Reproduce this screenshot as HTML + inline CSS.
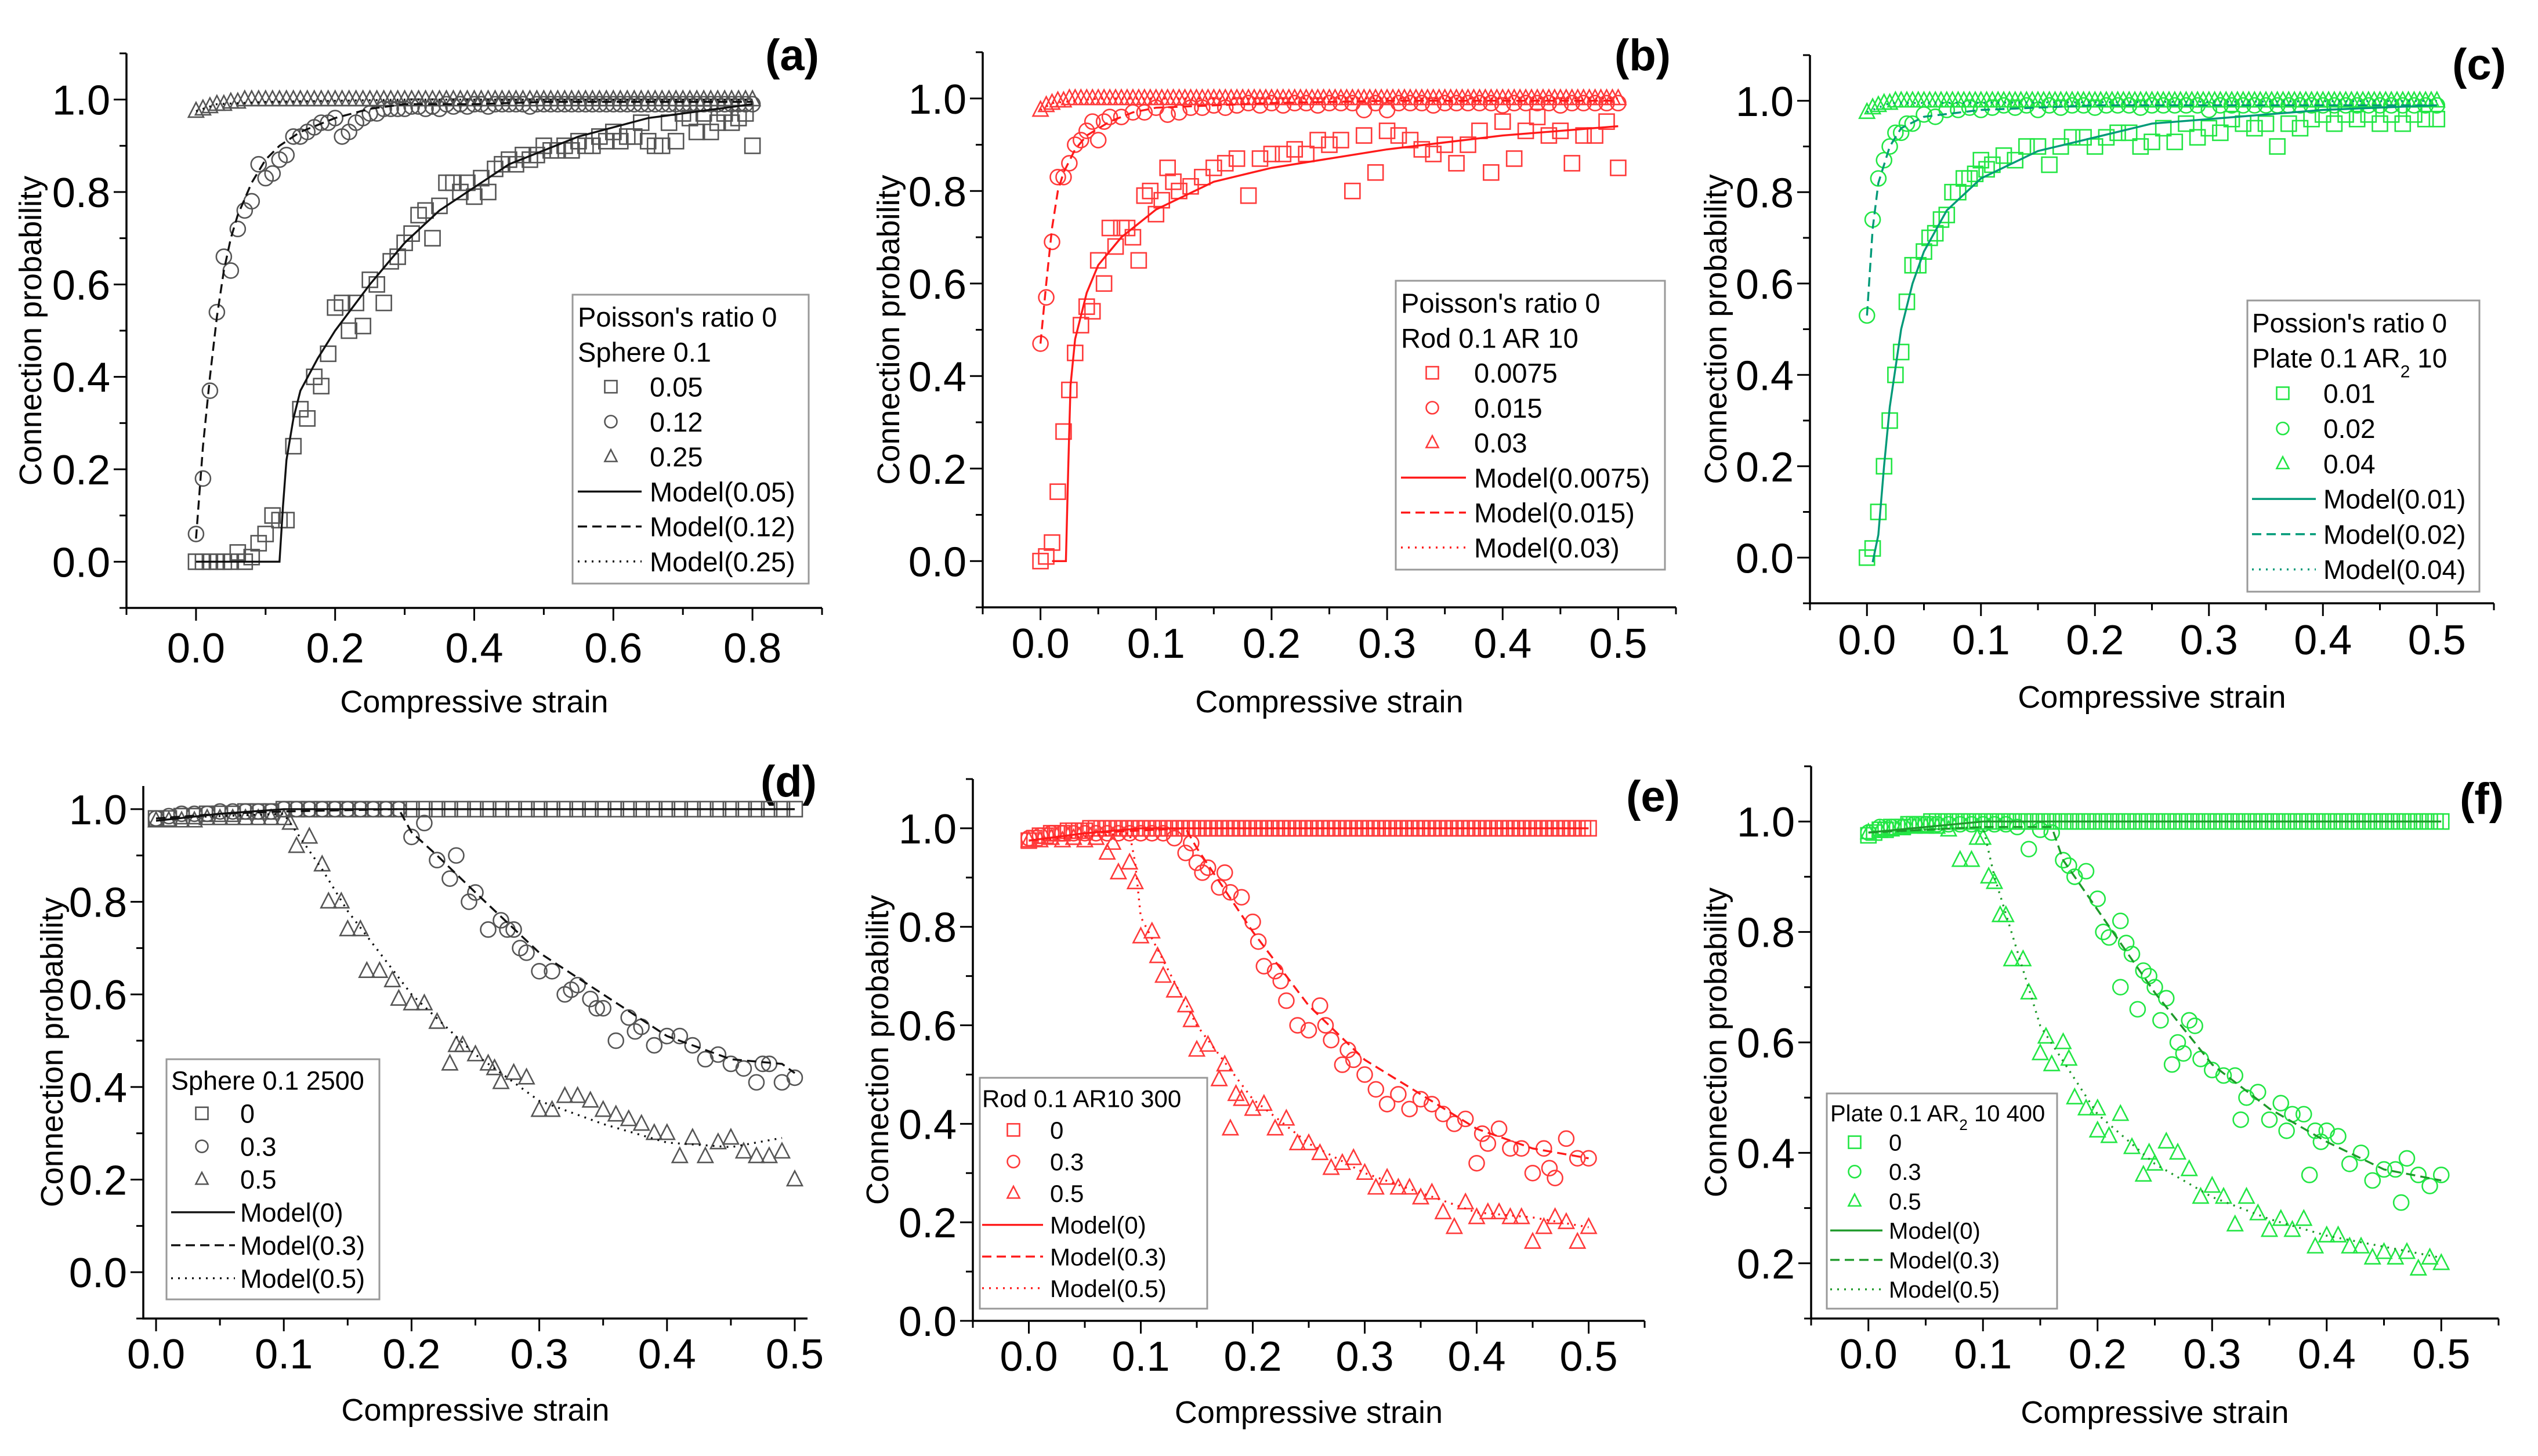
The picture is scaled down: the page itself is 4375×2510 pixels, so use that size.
<!DOCTYPE html>
<html><head><meta charset="utf-8"><style>
html,body{margin:0;padding:0;background:#fff}
svg{display:block}
text{font-family:"Liberation Sans",Arial,sans-serif}
</style></head><body>
<svg id="fig" xmlns="http://www.w3.org/2000/svg" width="4375" height="2510" viewBox="0 0 4375 2510"></svg>
<script>
// ---------- DATA ----------
const gridA=[0,0.01,0.02,0.03,0.04,0.05,0.06,0.07,0.08,0.09,0.1,0.11,0.12,0.13,0.14,0.15,0.16,0.17,0.18,0.19,0.2,0.21,0.22,0.23,0.24,0.25,0.26,0.27,0.28,0.29,0.3,0.31,0.32,0.33,0.34,0.35,0.36,0.37,0.38,0.39,0.4,0.41,0.42,0.43,0.44,0.45,0.46,0.47,0.48,0.49,0.5,0.51,0.52,0.53,0.54,0.55,0.56,0.57,0.58,0.59,0.6,0.61,0.62,0.63,0.64,0.65,0.66,0.67,0.68,0.69,0.7,0.71,0.72,0.73,0.74,0.75,0.76,0.77,0.78,0.79,0.8];
const grid5=[0,0.01,0.02,0.03,0.04,0.05,0.06,0.07,0.08,0.09,0.1,0.11,0.12,0.13,0.14,0.15,0.16,0.17,0.18,0.19,0.2,0.21,0.22,0.23,0.24,0.25,0.26,0.27,0.28,0.29,0.3,0.31,0.32,0.33,0.34,0.35,0.36,0.37,0.38,0.39,0.4,0.41,0.42,0.43,0.44,0.45,0.46,0.47,0.48,0.49,0.5];
const grid5h=[0,0.005,0.01,0.015,0.02,0.025,0.03,0.035,0.04,0.045,0.05,0.055,0.06,0.065,0.07,0.075,0.08,0.085,0.09,0.095,0.1,0.105,0.11,0.115,0.12,0.125,0.13,0.135,0.14,0.145,0.15,0.155,0.16,0.165,0.17,0.175,0.18,0.185,0.19,0.195,0.2,0.205,0.21,0.215,0.22,0.225,0.23,0.235,0.24,0.245,0.25,0.255,0.26,0.265,0.27,0.275,0.28,0.285,0.29,0.295,0.3,0.305,0.31,0.315,0.32,0.325,0.33,0.335,0.34,0.345,0.35,0.355,0.36,0.365,0.37,0.375,0.38,0.385,0.39,0.395,0.4,0.405,0.41,0.415,0.42,0.425,0.43,0.435,0.44,0.445,0.45,0.455,0.46,0.465,0.47,0.475,0.48,0.485,0.49,0.495,0.5];
const near1_101=[0.975,0.985,0.99,0.995,0.995,1,1,1,1,1,1,1,1,1,1,1,1,1,1,1,1,1,1,1,1,1,1,1,1,1,1,1,1,1,1,1,1,1,1,1,1,1,1,1,1,1,1,1,1,1,1,1,1,1,1,1,1,1,1,1,1,1,1,1,1,1,1,1,1,1,1,1,1,1,1,1,1,1,1,1,1,1,1,1,1,1,1,1,1,1,1,1,1,1,1,1,1,1,1,1,1];
const near1_101b=[0.975,0.98,0.985,0.985,0.99,0.99,0.99,0.995,0.995,0.995,0.995,1,1,1,1,1,1,1,1,1,1,1,1,1,1,1,1,1,1,1,1,1,1,1,1,1,1,1,1,1,1,1,1,1,1,1,1,1,1,1,1,1,1,1,1,1,1,1,1,1,1,1,1,1,1,1,1,1,1,1,1,1,1,1,1,1,1,1,1,1,1,1,1,1,1,1,1,1,1,1,1,1,1,1,1,1,1,1,1,1,1];
// (a)
const aTriY=[0.975,0.98,0.985,0.99,0.99,0.995,0.995,1,1,1,1,1,1,1,1,1,1,1,1,1,1,1,1,1,1,1,1,1,1,1,1,1,1,1,1,1,1,1,1,1,1,1,1,1,1,1,1,1,1,1,1,1,1,1,1,1,1,1,1,1,1,1,1,1,1,1,1,1,1,1,1,1,1,1,1,1,1,1,1,1,1];
const aSqY=[0,0,0,0,0,0,0.02,0,0.01,0.04,0.06,0.1,0.09,0.09,0.25,0.33,0.31,0.4,0.38,0.45,0.55,0.56,0.5,0.56,0.51,0.61,0.6,0.56,0.65,0.66,0.69,0.71,0.75,0.76,0.7,0.77,0.82,0.82,0.8,0.82,0.79,0.83,0.8,0.85,0.86,0.87,0.86,0.88,0.87,0.88,0.9,0.89,0.89,0.9,0.89,0.91,0.9,0.9,0.92,0.91,0.93,0.91,0.92,0.92,0.95,0.91,0.9,0.9,0.95,0.91,0.97,0.96,0.93,0.97,0.93,0.95,0.97,0.95,0.96,0.97,0.9];
const aCirY=[0.06,0.18,0.37,0.54,0.66,0.63,0.72,0.76,0.78,0.86,0.83,0.84,0.87,0.88,0.92,0.92,0.93,0.94,0.95,0.95,0.96,0.92,0.93,0.95,0.96,0.97,0.97,0.98,0.98,0.98,0.98,0.985,0.985,0.98,0.985,0.98,0.99,0.985,0.99,0.985,0.99,0.99,0.985,0.99,0.99,0.99,0.99,0.99,0.985,0.99,0.99,0.99,0.99,0.99,0.99,0.99,0.99,0.99,0.99,0.99,0.99,0.99,0.99,0.99,0.99,0.99,0.99,0.99,0.99,0.99,0.99,0.99,0.99,0.99,0.99,0.99,0.99,0.99,0.99,0.99,0.99];
const aM1X=[0,0.12,0.125,0.13,0.14,0.15,0.175,0.2,0.25,0.3,0.35,0.4,0.45,0.5,0.55,0.6,0.65,0.7,0.75,0.8];
const aM1Y=[0,0,0.12,0.22,0.31,0.37,0.44,0.5,0.6,0.69,0.76,0.81,0.86,0.89,0.92,0.94,0.96,0.97,0.98,0.99];
const aM2X=[0,0.01,0.02,0.03,0.04,0.05,0.06,0.08,0.1,0.12,0.15,0.2,0.25,0.3,0.4,0.5,0.6,0.7,0.8];
const aM2Y=[0.05,0.25,0.4,0.53,0.63,0.7,0.75,0.82,0.87,0.9,0.93,0.96,0.98,0.99,0.99,0.995,0.995,0.995,0.995];
const aM3X=[0,0.03,0.1,0.3,0.5,0.8];
const aM3Y=[0.975,0.99,0.995,1,1,1];
// (b)
const bSqX=[0,0.005,0.01,0.015,0.02,0.025,0.03,0.035,0.04,0.045,0.05,0.055,0.06,0.065,0.07,0.075,0.08,0.085,0.09,0.095,0.1,0.105,0.11,0.115,0.12,0.13,0.14,0.15,0.16,0.17,0.18,0.19,0.2,0.21,0.22,0.23,0.24,0.25,0.26,0.27,0.28,0.29,0.3,0.31,0.32,0.33,0.34,0.35,0.36,0.37,0.38,0.39,0.4,0.41,0.42,0.43,0.44,0.45,0.46,0.47,0.48,0.49,0.5];
const bSqY=[0,0.01,0.04,0.15,0.28,0.37,0.45,0.51,0.55,0.54,0.65,0.6,0.72,0.68,0.72,0.72,0.7,0.65,0.79,0.8,0.75,0.78,0.85,0.82,0.8,0.81,0.83,0.85,0.86,0.87,0.79,0.87,0.88,0.88,0.89,0.88,0.91,0.9,0.91,0.8,0.92,0.84,0.93,0.92,0.91,0.89,0.88,0.9,0.86,0.9,0.93,0.84,0.95,0.87,0.93,0.96,0.92,0.93,0.86,0.92,0.92,0.95,0.85];
const bCirX=[0,0.005,0.01,0.015,0.02,0.025,0.03,0.035,0.04,0.045,0.05,0.055,0.06,0.07,0.08,0.09,0.1,0.11,0.12,0.13,0.14,0.15,0.16,0.17,0.18,0.19,0.2,0.21,0.22,0.23,0.24,0.25,0.26,0.27,0.28,0.29,0.3,0.31,0.32,0.33,0.34,0.35,0.36,0.37,0.38,0.39,0.4,0.41,0.42,0.43,0.44,0.45,0.46,0.47,0.48,0.49,0.5];
const bCirY=[0.47,0.57,0.69,0.83,0.83,0.86,0.9,0.91,0.93,0.95,0.91,0.95,0.96,0.96,0.97,0.97,0.98,0.965,0.97,0.98,0.98,0.985,0.98,0.985,0.99,0.985,0.99,0.985,0.99,0.99,0.985,0.99,0.99,0.99,0.975,0.99,0.975,0.99,0.99,0.99,0.985,0.99,0.99,0.99,0.99,0.99,0.985,0.99,0.99,0.99,0.99,0.985,0.99,0.99,0.99,0.99,0.99];
const bM1X=[0.01,0.022,0.024,0.026,0.03,0.04,0.05,0.07,0.1,0.15,0.2,0.25,0.3,0.35,0.4,0.45,0.5];
const bM1Y=[0,0,0.2,0.38,0.48,0.58,0.64,0.7,0.76,0.82,0.85,0.87,0.89,0.905,0.92,0.93,0.94];
const bM2X=[0,0.005,0.01,0.015,0.02,0.03,0.04,0.06,0.08,0.1,0.2,0.3,0.5];
const bM2Y=[0.47,0.6,0.72,0.8,0.84,0.89,0.92,0.95,0.97,0.98,0.99,0.995,0.995];
const bM3X=[0,0.01,0.05,0.5];
const bM3Y=[0.975,0.99,1,1];
// (c)
const cSqX=[0,0.005,0.01,0.015,0.02,0.025,0.03,0.035,0.04,0.045,0.05,0.055,0.06,0.065,0.07,0.075,0.08,0.085,0.09,0.095,0.1,0.105,0.11,0.12,0.13,0.14,0.15,0.16,0.17,0.18,0.19,0.2,0.21,0.22,0.23,0.24,0.25,0.26,0.27,0.28,0.29,0.3,0.31,0.32,0.33,0.34,0.35,0.36,0.37,0.38,0.39,0.4,0.41,0.42,0.43,0.44,0.45,0.46,0.47,0.48,0.49,0.5];
const cSqY=[0,0.02,0.1,0.2,0.3,0.4,0.45,0.56,0.64,0.64,0.67,0.7,0.71,0.74,0.75,0.8,0.8,0.83,0.83,0.84,0.87,0.85,0.86,0.88,0.87,0.9,0.9,0.86,0.9,0.92,0.92,0.9,0.92,0.93,0.93,0.9,0.91,0.94,0.91,0.95,0.92,0.94,0.93,0.96,0.95,0.94,0.95,0.9,0.95,0.94,0.96,0.97,0.95,0.97,0.96,0.97,0.95,0.97,0.95,0.97,0.96,0.96];
const cCirX=[0,0.005,0.01,0.015,0.02,0.025,0.03,0.035,0.04,0.05,0.06,0.07,0.08,0.09,0.1,0.11,0.12,0.13,0.14,0.15,0.16,0.17,0.18,0.19,0.2,0.21,0.22,0.23,0.24,0.25,0.26,0.27,0.28,0.29,0.3,0.31,0.32,0.33,0.34,0.35,0.36,0.37,0.38,0.39,0.4,0.41,0.42,0.43,0.44,0.45,0.46,0.47,0.48,0.49,0.5];
const cCirY=[0.53,0.74,0.83,0.87,0.9,0.93,0.93,0.95,0.95,0.97,0.965,0.98,0.98,0.985,0.98,0.985,0.99,0.985,0.99,0.98,0.99,0.985,0.99,0.99,0.985,0.99,0.99,0.99,0.985,0.99,0.99,0.99,0.99,0.99,0.98,0.99,0.99,0.99,0.99,0.99,0.99,0.99,0.99,0.99,0.99,0.99,0.99,0.99,0.99,0.99,0.99,0.99,0.99,0.99,0.99];
const cM1X=[0.005,0.01,0.015,0.02,0.03,0.04,0.05,0.07,0.1,0.15,0.2,0.25,0.3,0.4,0.5];
const cM1Y=[-0.01,0.05,0.2,0.33,0.5,0.6,0.67,0.76,0.83,0.89,0.92,0.95,0.96,0.98,0.99];
const cM2X=[0,0.005,0.01,0.02,0.03,0.05,0.1,0.2,0.5];
const cM2Y=[0.53,0.72,0.82,0.9,0.94,0.965,0.98,0.99,0.99];
const cM3X=[0,0.02,0.5];
const cM3Y=[0.975,0.995,1];
// (d)
const dSqY=[0.98,0.98,0.985,0.985,0.99,0.99,0.99,0.995,0.995,0.995,1,1,1,1,1,1,1,1,1,1,1,1,1,1,1,1,1,1,1,1,1,1,1,1,1,1,1,1,1,1,1,1,1,1,1,1,1,1,1,1,1];
const dCirX=[0,0.01,0.02,0.03,0.04,0.05,0.06,0.07,0.08,0.09,0.1,0.11,0.12,0.13,0.14,0.15,0.16,0.17,0.18,0.19,0.2,0.21,0.22,0.23,0.235,0.245,0.25,0.26,0.27,0.275,0.28,0.285,0.29,0.3,0.31,0.32,0.325,0.33,0.34,0.345,0.35,0.36,0.37,0.375,0.38,0.39,0.4,0.41,0.42,0.43,0.44,0.45,0.46,0.47,0.475,0.48,0.49,0.5];
const dCirY=[0.98,0.985,0.99,0.99,0.99,0.995,0.995,0.995,0.995,0.995,1,1,1,1,1,1,1,1,1,1,0.94,0.97,0.89,0.85,0.9,0.8,0.82,0.74,0.76,0.74,0.74,0.7,0.69,0.65,0.65,0.6,0.61,0.62,0.59,0.57,0.57,0.5,0.55,0.52,0.53,0.49,0.51,0.51,0.49,0.46,0.47,0.45,0.44,0.41,0.45,0.45,0.41,0.42];
const dTriX=[0,0.01,0.02,0.03,0.04,0.05,0.06,0.07,0.08,0.09,0.1,0.105,0.11,0.12,0.13,0.135,0.145,0.15,0.16,0.165,0.175,0.185,0.19,0.2,0.21,0.22,0.23,0.235,0.24,0.25,0.26,0.265,0.27,0.28,0.29,0.3,0.31,0.32,0.33,0.34,0.35,0.36,0.37,0.38,0.39,0.4,0.41,0.42,0.43,0.44,0.45,0.46,0.47,0.48,0.49,0.5];
const dTriY=[0.975,0.975,0.975,0.975,0.98,0.98,0.98,0.98,0.98,0.98,0.98,0.97,0.92,0.94,0.88,0.8,0.8,0.74,0.74,0.65,0.65,0.63,0.59,0.58,0.58,0.54,0.45,0.49,0.49,0.47,0.45,0.44,0.41,0.43,0.42,0.35,0.35,0.38,0.38,0.37,0.35,0.34,0.33,0.32,0.3,0.3,0.25,0.29,0.25,0.28,0.29,0.26,0.25,0.25,0.26,0.2];
const dM1X=[0,0.05,0.1,0.5];
const dM1Y=[0.975,0.99,1,1];
const dM2X=[0,0.05,0.1,0.19,0.2,0.22,0.25,0.3,0.35,0.4,0.45,0.49,0.5];
const dM2Y=[0.98,0.99,0.995,1,0.95,0.9,0.82,0.69,0.6,0.51,0.46,0.45,0.43];
const dM3X=[0,0.1,0.11,0.13,0.15,0.2,0.25,0.3,0.35,0.4,0.45,0.49];
const dM3Y=[0.98,0.99,0.95,0.87,0.78,0.6,0.47,0.37,0.32,0.28,0.27,0.29];
// (e)
const eCirX=[0,0.01,0.02,0.03,0.04,0.05,0.06,0.07,0.08,0.09,0.1,0.11,0.12,0.13,0.14,0.145,0.15,0.155,0.16,0.17,0.175,0.18,0.19,0.2,0.205,0.21,0.22,0.225,0.23,0.24,0.25,0.26,0.265,0.27,0.28,0.285,0.29,0.3,0.31,0.32,0.33,0.34,0.35,0.36,0.37,0.38,0.39,0.4,0.405,0.41,0.42,0.43,0.44,0.45,0.46,0.465,0.47,0.48,0.49,0.5];
const eCirY=[0.98,0.985,0.99,0.99,0.99,0.99,0.99,0.99,0.99,0.99,0.99,0.99,0.99,0.98,0.95,0.97,0.93,0.91,0.92,0.88,0.91,0.87,0.86,0.81,0.77,0.72,0.71,0.69,0.65,0.6,0.59,0.64,0.6,0.57,0.52,0.55,0.53,0.5,0.47,0.44,0.46,0.43,0.45,0.44,0.42,0.4,0.41,0.32,0.38,0.36,0.39,0.35,0.35,0.3,0.35,0.31,0.29,0.37,0.33,0.33];
const eTriX=[0,0.01,0.02,0.03,0.04,0.05,0.06,0.07,0.075,0.08,0.09,0.095,0.1,0.11,0.115,0.12,0.13,0.14,0.145,0.15,0.16,0.17,0.175,0.18,0.185,0.19,0.2,0.21,0.22,0.23,0.24,0.25,0.26,0.27,0.28,0.29,0.3,0.31,0.32,0.33,0.34,0.35,0.36,0.37,0.38,0.39,0.4,0.41,0.42,0.43,0.44,0.45,0.46,0.47,0.48,0.49,0.5];
const eTriY=[0.975,0.975,0.98,0.975,0.98,0.975,0.98,0.95,0.97,0.91,0.93,0.89,0.78,0.79,0.74,0.7,0.67,0.64,0.61,0.55,0.56,0.49,0.52,0.39,0.46,0.45,0.43,0.44,0.39,0.41,0.36,0.36,0.34,0.31,0.32,0.33,0.3,0.27,0.29,0.27,0.27,0.25,0.26,0.22,0.19,0.24,0.21,0.22,0.22,0.21,0.21,0.16,0.19,0.21,0.2,0.16,0.19];
const eM1X=[0,0.05,0.1,0.5];
const eM1Y=[0.975,0.99,1,1];
const eM2X=[0,0.05,0.14,0.15,0.2,0.25,0.3,0.35,0.4,0.45,0.5];
const eM2Y=[0.975,0.99,1,0.96,0.79,0.64,0.53,0.46,0.39,0.35,0.33];
const eM3X=[0,0.09,0.095,0.1,0.15,0.2,0.25,0.3,0.35,0.4,0.45,0.5];
const eM3Y=[0.975,0.99,0.93,0.82,0.6,0.45,0.36,0.3,0.26,0.22,0.21,0.19];
// (f)
const fCirX=[0,0.01,0.02,0.03,0.04,0.05,0.06,0.07,0.08,0.09,0.1,0.11,0.12,0.13,0.14,0.15,0.16,0.17,0.175,0.18,0.19,0.2,0.205,0.21,0.22,0.225,0.23,0.22,0.24,0.245,0.25,0.235,0.255,0.26,0.265,0.27,0.275,0.28,0.285,0.29,0.3,0.31,0.32,0.325,0.33,0.34,0.35,0.36,0.365,0.37,0.38,0.385,0.39,0.395,0.4,0.41,0.42,0.43,0.44,0.45,0.46,0.465,0.47,0.48,0.49,0.5];
const fCirY=[0.98,0.99,0.99,0.99,0.995,0.995,0.995,0.995,0.995,0.995,0.995,0.995,0.995,0.99,0.95,0.985,0.98,0.93,0.92,0.9,0.91,0.86,0.8,0.79,0.82,0.78,0.76,0.7,0.73,0.72,0.7,0.66,0.64,0.68,0.56,0.6,0.58,0.64,0.63,0.57,0.55,0.54,0.54,0.46,0.5,0.51,0.46,0.49,0.44,0.47,0.47,0.36,0.44,0.42,0.44,0.43,0.38,0.4,0.35,0.37,0.37,0.31,0.39,0.36,0.34,0.36];
const fTriX=[0,0.01,0.02,0.03,0.04,0.05,0.06,0.07,0.08,0.09,0.1,0.095,0.11,0.105,0.115,0.12,0.125,0.135,0.14,0.15,0.155,0.16,0.17,0.175,0.18,0.19,0.2,0.2,0.21,0.22,0.23,0.24,0.245,0.25,0.26,0.27,0.28,0.29,0.3,0.31,0.32,0.33,0.34,0.35,0.36,0.37,0.38,0.39,0.4,0.41,0.42,0.43,0.44,0.45,0.46,0.47,0.48,0.49,0.5];
const fTriY=[0.98,0.985,0.985,0.99,0.99,0.99,0.99,0.985,0.93,0.93,0.97,0.97,0.89,0.9,0.83,0.83,0.75,0.75,0.69,0.58,0.61,0.56,0.6,0.57,0.5,0.48,0.44,0.48,0.43,0.47,0.41,0.36,0.4,0.38,0.42,0.4,0.37,0.32,0.34,0.32,0.27,0.32,0.29,0.26,0.28,0.26,0.28,0.23,0.25,0.25,0.23,0.23,0.21,0.22,0.21,0.22,0.19,0.21,0.2];
const fM1X=[0,0.05,0.1,0.5];
const fM1Y=[0.98,0.99,1,1];
const fM2X=[0,0.1,0.16,0.17,0.2,0.25,0.3,0.35,0.4,0.45,0.5];
const fM2Y=[0.98,0.99,0.99,0.93,0.84,0.69,0.56,0.48,0.42,0.37,0.35];
const fM3X=[0,0.1,0.11,0.15,0.2,0.25,0.3,0.35,0.4,0.45,0.5];
const fM3Y=[0.98,0.99,0.9,0.63,0.47,0.38,0.32,0.28,0.25,0.23,0.21];
// tick labels
const xTicksA=[0,0.2,0.4,0.6,0.8];
const xTicks5=[0,0.1,0.2,0.3,0.4,0.5];
const yTicks=[0,0.2,0.4,0.6,0.8,1.0];
const yTicksF=[0.2,0.4,0.6,0.8,1.0];
</script>
<script>
const NS='http://www.w3.org/2000/svg';
const svg=document.getElementById('fig');
function E(tag,attrs,parent){const el=document.createElementNS(NS,tag);for(const k in attrs)el.setAttribute(k,attrs[k]);(parent||svg).appendChild(el);return el;}

const BLK={m:'#555',l:'#111'},RED={m:'#ff3a3a',l:'#ff1a1a'},GC={m:'#22e644',l:'#009a78'},GF={m:'#22e644',l:'#1e9a2a'};
const DASH={solid:'',dash:'16 9',dot:'3 9'};

const panels=[
 {id:'a',L:218,R:1417,T:92,B:1048,x0:-0.1,x1:0.9,y0:-0.1,y1:1.1,xt:xTicksA,xminor:[0.1,0.3,0.5,0.7,-0.1,0.9],yt:yTicks,yminor:[-0.1,0.1,0.3,0.5,0.7,0.9,1.1],labY:1116,xtY:1209,ytX:52,tag:'(a)',tagX:1412,tagY:96,col:BLK,
  leg:{x:987,y:508,w:407,h:498,mx:1053,tx:1120,lx0:996,lx1:1106,fs:47,titles:["Poisson's ratio 0","Sphere 0.1"],labels:['0.05','0.12','0.25','Model(0.05)','Model(0.12)','Model(0.25)']},
  sc:[['sq',gridA,aSqY],['ci',gridA,aCirY],['tr',gridA,aTriY]],ln:[['solid',aM1X,aM1Y],['dash',aM2X,aM2Y],['dot',aM3X,aM3Y]]},
 {id:'b',L:1694,R:2889,T:90,B:1047,x0:-0.05,x1:0.55,y0:-0.1,y1:1.1,xt:xTicks5,xminor:[-0.05,0.05,0.15,0.25,0.35,0.45,0.55],yt:yTicks,yminor:[-0.1,0.1,0.3,0.5,0.7,0.9,1.1],labY:1108,xtY:1209,ytX:1531,tag:'(b)',tagX:2880,tagY:96,col:RED,
  leg:{x:2406,y:484,w:464,h:498,mx:2469,tx:2541,lx0:2415,lx1:2527,fs:47,titles:["Poisson's ratio 0","Rod 0.1 AR 10"],labels:['0.0075','0.015','0.03','Model(0.0075)','Model(0.015)','Model(0.03)']},
  sc:[['sq',bSqX,bSqY],['ci',bCirX,bCirY],['tr',grid5h,near1_101]],ln:[['solid',bM1X,bM1Y],['dash',bM2X,bM2Y],['dot',bM3X,bM3Y]]},
 {id:'c',L:3120,R:4299,T:95,B:1040,x0:-0.05,x1:0.55,y0:-0.1,y1:1.1,xt:xTicks5,xminor:[-0.05,0.05,0.15,0.25,0.35,0.45,0.55],yt:yTicks,yminor:[-0.1,0.1,0.3,0.5,0.7,0.9,1.1],labY:1102,xtY:1201,ytX:2957,tag:'(c)',tagX:4320,tagY:112,col:GC,
  leg:{x:3874,y:518,w:400,h:502,mx:3935,tx:4005,lx0:3882,lx1:3992,fs:46,titles:["Possion's ratio 0","Plate 0.1 AR|2| 10"],labels:['0.01','0.02','0.04','Model(0.01)','Model(0.02)','Model(0.04)']},
  sc:[['sq',cSqX,cSqY],['ci',cCirX,cCirY],['tr',grid5h,near1_101]],ln:[['solid',cM1X,cM1Y],['dash',cM2X,cM2Y],['dot',cM3X,cM3Y]]},
 {id:'d',L:247,R:1392,T:1355,B:2273,x0:-0.01,x1:0.51,y0:-0.1,y1:1.05,xt:xTicks5,xminor:[0.05,0.15,0.25,0.35,0.45],yt:yTicks,yminor:[-0.1,0.1,0.3,0.5,0.7,0.9],labY:2333,xtY:2430,ytX:89,tag:'(d)',tagX:1408,tagY:1348,col:BLK,
  leg:{x:287,y:1826,w:367,h:414,mx:348,tx:414,lx0:295,lx1:405,fs:45,titles:["Sphere 0.1 2500"],labels:['0','0.3','0.5','Model(0)','Model(0.3)','Model(0.5)']},
  sc:[['sq',grid5,dSqY],['ci',dCirX,dCirY],['tr',dTriX,dTriY]],ln:[['solid',dM1X,dM1Y],['dash',dM2X,dM2Y],['dot',dM3X,dM3Y]]},
 {id:'e',L:1677,R:2835,T:1343,B:2277,x0:-0.05,x1:0.55,y0:0,y1:1.1,xt:xTicks5,xminor:[-0.05,0.05,0.15,0.25,0.35,0.45,0.55],yt:yTicks,yminor:[0.1,0.3,0.5,0.7,0.9,1.1],labY:2337,xtY:2434,ytX:1512,tag:'(e)',tagX:2896,tagY:1374,col:RED,
  leg:{x:1689,y:1858,w:392,h:398,mx:1747,tx:1810,lx0:1693,lx1:1798,fs:42,titles:["Rod 0.1 AR10 300"],labels:['0','0.3','0.5','Model(0)','Model(0.3)','Model(0.5)']},
  sc:[['sq',grid5h,near1_101b],['ci',eCirX,eCirY],['tr',eTriX,eTriY]],ln:[['solid',eM1X,eM1Y],['dash',eM2X,eM2Y],['dot',eM3X,eM3Y]]},
 {id:'f',L:3122,R:4307,T:1321,B:2273,x0:-0.05,x1:0.55,y0:0.1,y1:1.1,xt:xTicks5,xminor:[-0.05,0.05,0.15,0.25,0.35,0.45,0.55],yt:yTicksF,yminor:[0.1,0.3,0.5,0.7,0.9,1.1],labY:2333,xtY:2434,ytX:2957,tag:'(f)',tagX:4316,tagY:1378,col:GF,
  leg:{x:3149,y:1885,w:397,h:371,mx:3197,tx:3256,lx0:3155,lx1:3245,fs:40,titles:["Plate 0.1 AR|2| 10 400"],labels:['0','0.3','0.5','Model(0)','Model(0.3)','Model(0.5)']},
  sc:[['sq',grid5h,near1_101b],['ci',fCirX,fCirY],['tr',fTriX,fTriY]],ln:[['solid',fM1X,fM1Y],['dash',fM2X,fM2Y],['dot',fM3X,fM3Y]]}
];

function marker(kind,x,y,s,color,g){
  let el;
  if(kind==='sq'){el=E('rect',{x:x-s/2,y:y-s/2,width:s,height:s,fill:'none',stroke:color,'stroke-width':2.6},g);}
  else if(kind==='ci'){el=E('circle',{cx:x,cy:y,r:s/2,fill:'none',stroke:color,'stroke-width':2.6},g);}
  else {const h=s*0.95;el=E('polygon',{points:`${x},${y-h*0.6} ${x-s/2},${y+h*0.42} ${x+s/2},${y+h*0.42}`,fill:'none',stroke:color,'stroke-width':2.6},g);}
  return el;
}
function fmt(v){return v.toFixed(1);}
function addText(parent,str,attrs){
  const t=E('text',attrs,parent);
  const parts=str.split('|');
  parts.forEach((p,i)=>{const ts=E('tspan',{},t);ts.textContent=p;
    if(i%2===1){ts.setAttribute('baseline-shift','sub');ts.setAttribute('font-size','0.65em');}});
  return t;
}

panels.forEach(P=>{
  const g=E('g',{});
  
  
  const X=v=>P.L+(v-P.x0)/(P.x1-P.x0)*(P.R-P.L);
  const Y=v=>P.B-(v-P.y0)/(P.y1-P.y0)*(P.B-P.T);
  const ax=E('path',{d:`M${P.L},${P.T} L${P.L},${P.B} L${P.R},${P.B}`,fill:'none',stroke:'#000','stroke-width':3.5},g);
  
  
  P.xt.forEach(v=>{
    const tk=E('line',{x1:X(v),y1:P.B,x2:X(v),y2:P.B+22,stroke:'#000','stroke-width':3},g);
    
    
    const t=E('text',{x:X(v),y:P.labY+26,'font-size':72,'text-anchor':'middle',fill:'#000'},g);
    t.textContent=fmt(v);
    
    
  });
  P.xminor.forEach(v=>{const tk=E('line',{x1:X(v),y1:P.B,x2:X(v),y2:P.B+12,stroke:'#000','stroke-width':3},g);
    
    });
  P.yt.forEach(v=>{
    const tk=E('line',{x1:P.L-22,y1:Y(v),x2:P.L,y2:Y(v),stroke:'#000','stroke-width':3},g);
    
    
    const t=E('text',{x:P.L-28,y:Y(v)+26,'font-size':72,'text-anchor':'end',fill:'#000'},g);
    t.textContent=fmt(v);
    
    
  });
  P.yminor.forEach(v=>{const tk=E('line',{x1:P.L-12,y1:Y(v),x2:P.L,y2:Y(v),stroke:'#000','stroke-width':3},g);
    
    });
  const xt=E('text',{x:(P.L+P.R)/2,y:P.xtY+19,'font-size':54,'text-anchor':'middle',fill:'#000'},g);
  xt.textContent='Compressive strain';
  
  
  const cy=(P.T+P.B)/2;
  const yt=E('text',{x:P.ytX+19,y:cy,'font-size':54,'text-anchor':'middle',fill:'#000',transform:`rotate(-90 ${P.ytX+19} ${cy})`},g);
  yt.textContent='Connection probability';
  
  
  const tg=E('text',{x:P.tagX,y:P.tagY+25,'font-size':76,'font-weight':'bold','text-anchor':'end',fill:'#000'},g);
  tg.textContent=P.tag;
  
  
  const names=['series-low','series-mid','series-high'];
  P.sc.forEach((s,si)=>{
    const sg=E('g',{},g);
    
    
    const n=Math.min(s[1].length,s[2].length);
    for(let i=0;i<n;i++){const m=marker(s[0],X(s[1][i]),Y(s[2][i]),26,P.col.m,sg);
      
      }
  });
  P.ln.forEach((s,si)=>{
    const n=Math.min(s[1].length,s[2].length);
    let d='';for(let i=0;i<n;i++)d+=(i?'L':'M')+X(s[1][i]).toFixed(1)+','+Y(s[2][i]).toFixed(1);
    const pth=E('path',{d:d,fill:'none',stroke:P.col.l,'stroke-width':3.4,'stroke-dasharray':DASH[s[0]]},g);
    
    
  });
  const Lg=P.leg;
  const lg=E('g',{},g);
  
  
  E('rect',{x:Lg.x,y:Lg.y,width:Lg.w,height:Lg.h,fill:'#fff',stroke:'#999','stroke-width':3},lg);
  const nRows=Lg.titles.length+6;
  const rh=(Lg.h-16)/nRows;
  const rowY=i=>Lg.y+8+rh*(i+0.5);
  Lg.titles.forEach((t,i)=>{const tt=addText(lg,t,{x:Lg.lx0,y:rowY(i)+Lg.fs*0.36,'font-size':Lg.fs,fill:'#000'});
    
    });
  const kinds=['sq','ci','tr'],lk=['solid','dash','dot'];
  Lg.labels.forEach((lab,j)=>{
    const i=j+Lg.titles.length,y=rowY(i);
    if(j<3){const m=marker(kinds[j],Lg.mx,y,21,P.col.m,lg);
      
      }
    else{const l=E('line',{x1:Lg.lx0,y1:y,x2:Lg.lx1,y2:y,stroke:P.col.l,'stroke-width':3.4,'stroke-dasharray':DASH[lk[j-3]]},lg);
      
      }
    const t=E('text',{x:Lg.tx,y:y+Lg.fs*0.36,'font-size':Lg.fs,fill:'#000'},lg);
    t.textContent=lab;
    
    
  });
});
</script>
</body></html>
